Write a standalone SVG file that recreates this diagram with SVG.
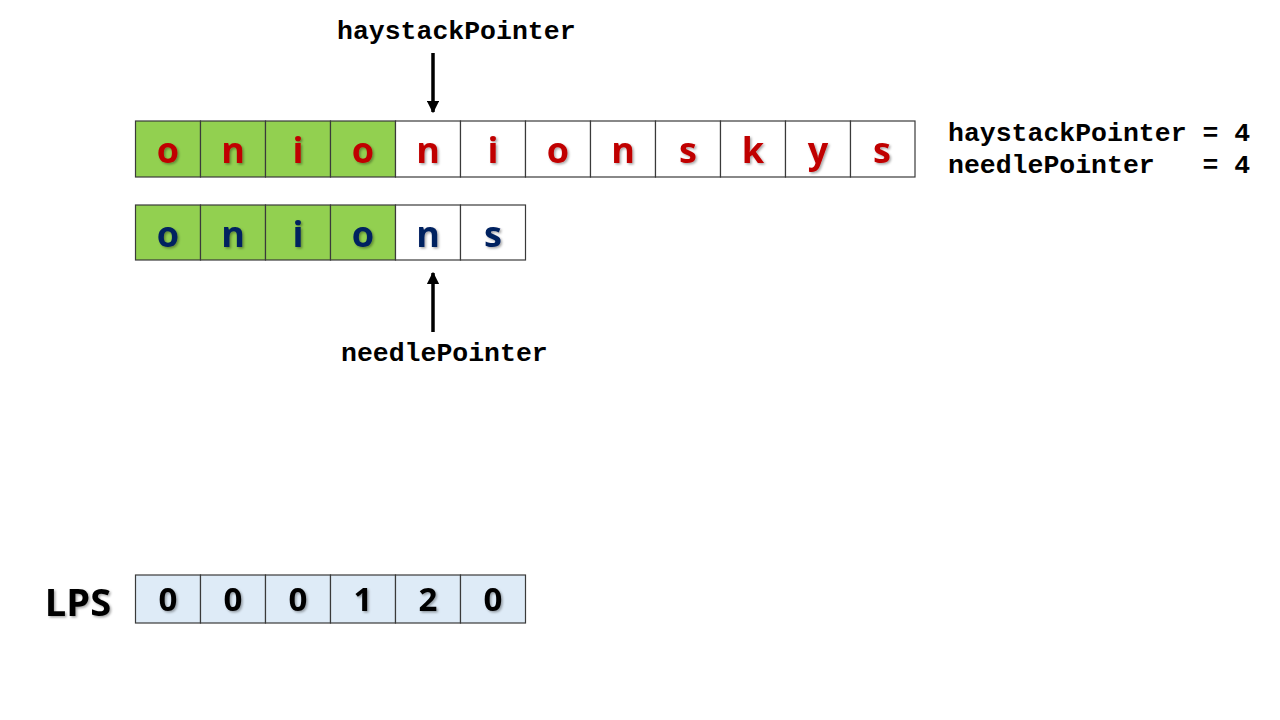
<svg xmlns="http://www.w3.org/2000/svg" width="1280" height="720" viewBox="0 0 1280 720">
<defs>
<style>
.cell{stroke:#3a3a3a;stroke-width:1.2}
.g{fill:#92D050}
.w{fill:#FFFFFF}
.b{fill:#DEEBF7}
.ch{font-family:"Comic Sans MS","Open Sans",sans-serif;font-weight:bold;font-size:36px;text-anchor:middle;filter:url(#sh)}
.dg{font-size:33px}
.red{fill:#C00000}
.navy{fill:#002060}
.blk{fill:#000000}
.mono{font-family:"Liberation Mono","Courier New",monospace;font-weight:bold;font-size:26.5px;fill:#000;white-space:pre}
.arr{stroke:#000;stroke-width:3.5;fill:none}
</style>
<filter id="sh" x="-30%" y="-30%" width="160%" height="160%">
<feDropShadow dx="1.5" dy="1.5" stdDeviation="1" flood-color="#000" flood-opacity="0.35"/>
</filter>
<marker id="ah" viewBox="0 0 10 10" refX="9" refY="5" markerWidth="3.6" markerHeight="3.6" orient="auto" markerUnits="strokeWidth">
<path d="M0,0 L10,5 L0,10 z" fill="#000"/>
</marker>
</defs>
<rect width="1280" height="720" fill="#fff"/>

<g id="haystack">
<rect class="cell g" x="135.5" y="121" width="65" height="56"/>
<rect class="cell g" x="200.5" y="121" width="65" height="56"/>
<rect class="cell g" x="265.5" y="121" width="65" height="56"/>
<rect class="cell g" x="330.5" y="121" width="65" height="56"/>
<rect class="cell w" x="395.5" y="121" width="65" height="56"/>
<rect class="cell w" x="460.5" y="121" width="65" height="56"/>
<rect class="cell w" x="525.5" y="121" width="65" height="56"/>
<rect class="cell w" x="590.5" y="121" width="65" height="56"/>
<rect class="cell w" x="655.5" y="121" width="65" height="56"/>
<rect class="cell w" x="720.5" y="121" width="65" height="56"/>
<rect class="cell w" x="785.5" y="121" width="65" height="56"/>
<rect class="cell w" x="850.5" y="121" width="64.5" height="56"/>
<text class="ch red" x="168" y="163">o</text>
<text class="ch red" x="233" y="163">n</text>
<text class="ch red" x="298" y="163">i</text>
<text class="ch red" x="363" y="163">o</text>
<text class="ch red" x="428" y="163">n</text>
<text class="ch red" x="493" y="163">i</text>
<text class="ch red" x="558" y="163">o</text>
<text class="ch red" x="623" y="163">n</text>
<text class="ch red" x="688" y="163">s</text>
<text class="ch red" x="753" y="163">k</text>
<text class="ch red" x="818" y="163">y</text>
<text class="ch red" x="882" y="163">s</text>
</g>

<g id="needle">
<rect class="cell g" x="135.5" y="205" width="65" height="55"/>
<rect class="cell g" x="200.5" y="205" width="65" height="55"/>
<rect class="cell g" x="265.5" y="205" width="65" height="55"/>
<rect class="cell g" x="330.5" y="205" width="65" height="55"/>
<rect class="cell w" x="395.5" y="205" width="65" height="55"/>
<rect class="cell w" x="460.5" y="205" width="65" height="55"/>
<text class="ch navy" x="168" y="247">o</text>
<text class="ch navy" x="233" y="247">n</text>
<text class="ch navy" x="298" y="247">i</text>
<text class="ch navy" x="363" y="247">o</text>
<text class="ch navy" x="428" y="247">n</text>
<text class="ch navy" x="493" y="247">s</text>
</g>

<g id="lps">
<rect class="cell b" x="135.5" y="575" width="65" height="48"/>
<rect class="cell b" x="200.5" y="575" width="65" height="48"/>
<rect class="cell b" x="265.5" y="575" width="65" height="48"/>
<rect class="cell b" x="330.5" y="575" width="65" height="48"/>
<rect class="cell b" x="395.5" y="575" width="65" height="48"/>
<rect class="cell b" x="460.5" y="575" width="65" height="48"/>
<text class="ch dg blk" x="168" y="611">0</text>
<text class="ch dg blk" x="233" y="611">0</text>
<text class="ch dg blk" x="298" y="611">0</text>
<text class="ch dg blk" x="363" y="611">1</text>
<text class="ch dg blk" x="428" y="611">2</text>
<text class="ch dg blk" x="493" y="611">0</text>
</g>

<g id="lps-label">
<text class="ch blk" x="78" y="616" style="font-size:38px">LPS</text>
</g>

<g id="haystack-label">
<text class="mono" x="337" y="39">haystackPointer</text>
</g>
<g id="needle-label">
<text class="mono" x="341" y="361">needlePointer</text>
</g>
<g id="status">
<text class="mono" x="948" y="141">haystackPointer = 4</text>
<text class="mono" x="948" y="173">needlePointer   = 4</text>
</g>

<g id="connectors">
<line class="arr" x1="433" y1="53" x2="433" y2="112" marker-end="url(#ah)"/>
<line class="arr" x1="433" y1="332" x2="433" y2="273" marker-end="url(#ah)"/>
</g>
</svg>
